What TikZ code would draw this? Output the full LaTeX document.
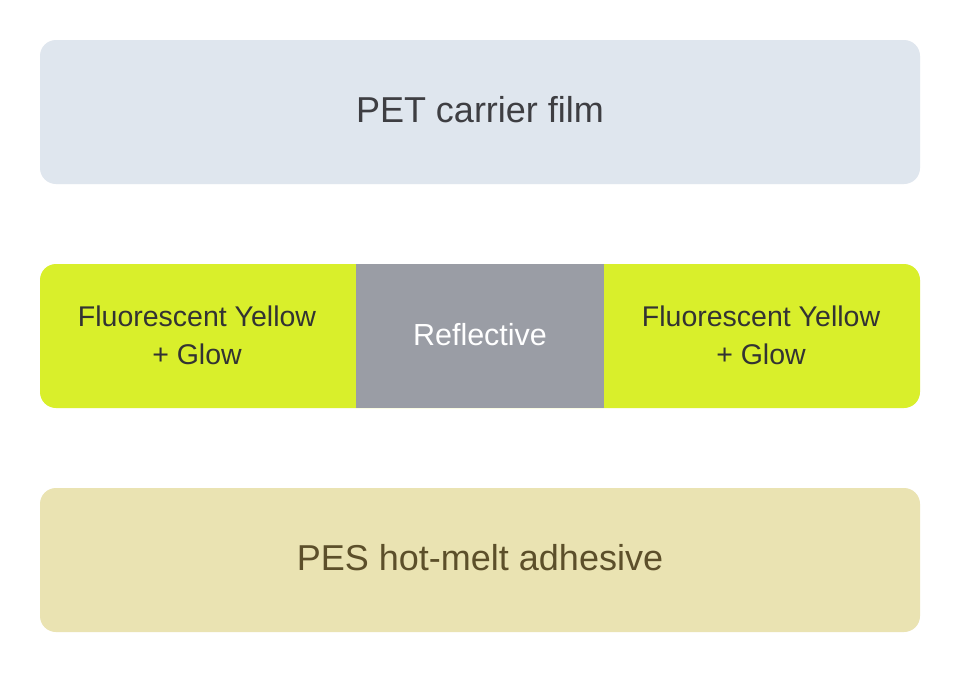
\documentclass[tikz,border=0pt]{standalone}
\usepackage{fontspec}
\setmainfont{Liberation Sans}
\definecolor{petfill}{HTML}{DFE6EE}
\definecolor{pettext}{HTML}{3E3E42}
\definecolor{yel}{HTML}{D9EF2B}
\definecolor{yeltext}{HTML}{333333}
\definecolor{refl}{HTML}{9A9DA5}
\definecolor{pesfill}{HTML}{EAE3B2}
\definecolor{pestext}{HTML}{5C4F2A}
\tikzset{
  layer/.style={rounded corners=16pt},
  bigtext/.style={font=\fontsize{36}{42}\selectfont, inner sep=0pt},
  midtext/.style={font=\fontsize{28.5}{38}\selectfont, align=center, inner sep=0pt},
  refltext/.style={font=\fontsize{30.5}{38}\selectfont, align=center, inner sep=0pt},
}
\begin{document}
\begin{tikzpicture}[x=1pt,y=-1pt]
\useasboundingbox (0,0) rectangle (960,680);
\fill[white] (0,0) rectangle (960,680);
% top layer
\fill[petfill,layer] (40,40) rectangle (920,184);
\node[bigtext, text=pettext] (pet) at (480,110) {PET carrier film};
% middle layer
\fill[yel,layer] (40,264) rectangle (920,408);
\fill[refl] (356,264) rectangle (604,408);
\node[midtext, text=yeltext] (fl) at (197,335) {Fluorescent Yellow\\+ Glow};
\node[refltext, text=white] (re) at (480,335) {Reflective};
\node[midtext, text=yeltext] (fr) at (761,335) {Fluorescent Yellow\\+ Glow};
% bottom layer
\fill[pesfill,layer] (40,488) rectangle (920,632);
\node[bigtext, text=pestext] (pes) at (480,558) {PES hot-melt adhesive};
\end{tikzpicture}
\end{document}
